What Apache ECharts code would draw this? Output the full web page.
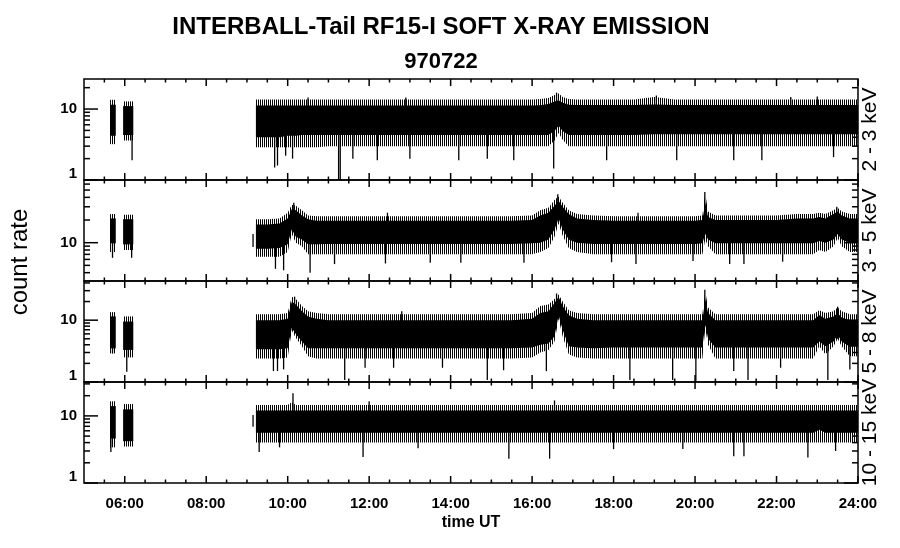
<!DOCTYPE html>
<html><head><meta charset="utf-8">
<script src="https://cdn.jsdelivr.net/npm/echarts@6/dist/echarts.min.js"></script>
<style>html,body{margin:0;padding:0;background:#fff}#c{width:900px;height:548px}</style>
</head><body><div id="c"></div>
<script>
// ---------------- text ----------------
const title1 = 'INTERBALL-Tail RF15-I SOFT X-RAY EMISSION';
const title2 = '970722';
const yTitle = 'count rate';
const xTitle = 'time UT';
const bandLabels = ['2 - 3 keV', '3 - 5 keV', '5 - 8 keV', '10 - 15 keV'];

// ---------------- axes ----------------
const xMin = 5, xMax = 24;
const xLabelHours = [6, 8, 10, 12, 14, 16, 18, 20, 22, 24];
const xMajorTicks = [6, 8, 10, 12, 14, 16, 18, 20, 22, 24];
const xMinorTicks = [5.5, 6.5, 7, 7.5, 8.5, 9, 9.5, 10.5, 11, 11.5, 12.5, 13, 13.5, 14.5, 15, 15.5,
  16.5, 17, 17.5, 18.5, 19, 19.5, 20.5, 21, 21.5, 22.5, 23, 23.5];
const yRanges = [[1, 26.5], [3.1, 68], [1, 43], [1, 32]];
const yMajorTicks = [[1, 10], [10], [1, 10], [1, 10]];
const yMinorTicks = [
  [2, 3, 4, 5, 6, 7, 8, 9, 20],
  [4, 5, 6, 7, 8, 9, 20, 30, 40, 50, 60],
  [2, 3, 4, 5, 6, 7, 8, 9, 20, 30, 40],
  [2, 3, 4, 5, 6, 7, 8, 9, 20, 30]
];

// ---------------- data (hours UT, count rate) ----------------
const times = [5.64, 5.78, 5.96, 6.21,
  9.22, 9.5, 9.8, 10.0, 10.1, 10.2, 10.35, 10.5, 10.7, 11.0, 11.5, 12.0, 12.5, 13.0, 13.5, 14.0, 14.5, 15.0, 15.5,
  16.0, 16.2, 16.4, 16.55, 16.65, 16.75, 16.9, 17.1, 17.5, 18.0, 18.5, 19.0, 19.5, 20.0, 20.18, 20.25, 20.32, 20.5,
  21.0, 21.5, 22.0, 22.5, 22.9, 23.05, 23.2, 23.4, 23.5, 23.6, 23.8, 24.0];
const segments = [[0, 1], [2, 3], [4, 52]];

// panel 1 : 2 - 3 keV
const p1CoreLo = [4.2, 4.2, 4.3, 4.3,
  4.0, 4.0, 4.0, 4.2, 4.2, 4.2, 4.3, 4.3, 4.3, 4.3, 4.3, 4.3, 4.3, 4.3, 4.3, 4.3, 4.3, 4.3, 4.3,
  4.3, 4.3, 4.3, 4.9, 5.8, 4.9, 4.3, 4.3, 4.3, 4.3, 4.3, 4.4, 4.4, 4.4, 4.4, 4.4, 4.4, 4.4,
  4.4, 4.4, 4.4, 4.4, 4.4, 4.4, 4.4, 4.4, 4.4, 4.4, 4.4, 4.4];
const p1CoreHi = [11.5, 11.5, 11, 11,
  11.2, 11.2, 11.2, 11.2, 11.2, 11.2, 11.2, 11.2, 11.2, 11.2, 11.2, 11.2, 11.2, 11.2, 11.2, 11.2, 11.2, 11.2, 11.2,
  11.2, 11.3, 11.8, 12.8, 13.3, 12.3, 11.5, 11.4, 11.4, 11.4, 11.4, 11.6, 11.4, 11.4, 11.4, 11.4, 11.4, 11.4,
  11.4, 11.4, 11.4, 11.4, 11.4, 11.4, 11.4, 11.4, 11.4, 11.4, 11.4, 11.4];
const p1FrLo = [3.2, 3.2, 3.6, 3.6,
  2.9, 2.9, 2.9, 2.9, 2.9, 2.9, 2.9, 2.9, 2.9, 3.0, 3.0, 3.0, 3.0, 3.0, 3.0, 3.0, 3.0, 3.0, 3.0,
  3.0, 3.0, 3.0, 3.6, 4.6, 3.7, 3.0, 3.0, 3.0, 3.0, 3.0, 3.0, 3.0, 3.0, 3.0, 3.0, 3.0, 3.0,
  3.0, 3.0, 3.0, 3.0, 3.0, 3.0, 3.0, 3.0, 3.0, 3.0, 3.0, 3.0];
const p1FrHi = [13.5, 13.5, 12.8, 12.8,
  13.6, 13.6, 13.6, 13.6, 13.6, 13.6, 13.6, 13.6, 13.6, 13.6, 13.6, 13.6, 13.6, 13.6, 13.6, 13.6, 13.6, 13.6, 13.6,
  13.6, 13.8, 14.3, 15.8, 16.5, 14.8, 13.8, 13.6, 13.6, 13.6, 13.6, 14.8, 13.6, 13.6, 13.6, 13.6, 13.6, 13.6,
  13.6, 13.6, 13.6, 13.6, 13.6, 13.6, 13.6, 13.6, 13.6, 13.6, 13.6, 13.6];
const p1SpikeT  = [6.18, 9.68, 9.75, 9.95, 10.12, 11.25, 11.29, 11.6, 12.2, 13.0, 14.2, 14.9, 15.55, 16.53, 17.83, 19.55, 20.95, 21.64, 23.4, 16.6, 19.05, 23.0, 10.5, 12.9, 22.35];
const p1SpikeLo = [1.9, 1.5, 1.6, 2.2, 2.0, 1.0, 1.0, 2.0, 1.9, 2.0, 1.9, 2.0, 1.9, 1.45, 1.9, 1.9, 1.9, 1.9, 2.1, 10, 10, 10, 10, 10, 10];
const p1SpikeHi = [5, 5, 5, 5, 5, 5, 5, 5, 5, 5, 5, 5, 5, 5, 5, 5, 5, 5, 5, 17, 15.5, 15, 14.5, 14.5, 14.8];

// panel 2 : 3 - 5 keV
const p2CoreLo = [9.8, 9.8, 9.5, 9.5,
  8.3, 8.3, 8.5, 9.5, 15, 12, 11, 9.5, 9.5, 9.6, 9.6, 9.6, 9.6, 9.6, 9.6, 9.6, 9.6, 9.6, 9.6,
  9.8, 10, 11, 15, 21, 15, 11, 10, 9.6, 9.6, 9.6, 9.6, 9.6, 9.6, 9.8, 13, 11, 9.8,
  9.8, 9.8, 9.8, 9.8, 9.8, 10.5, 10, 11, 13, 11, 10, 10];
const p2CoreHi = [21, 21, 20.5, 20.5,
  17.5, 17.5, 18, 21, 28, 27, 23, 20.5, 19.5, 19.5, 19.5, 19.5, 19.5, 19.5, 19.5, 19.5, 19.5, 19.5, 19.5,
  20, 23, 25, 31, 36, 30, 24, 21, 20, 19.5, 19.5, 19.5, 19.5, 19.5, 20, 34, 22, 20,
  20, 20, 20, 21, 21, 22, 21, 24, 26, 23, 21, 21];
const p2FrLo = [7.5, 7.5, 8, 8,
  6.5, 6.5, 6.5, 7.5, 13, 10, 9, 7, 7, 7, 7, 7, 7, 7, 7, 7, 7, 7, 7,
  7, 7.5, 8.5, 12, 18, 12.5, 8.5, 7.5, 7, 7, 7, 7, 7, 7, 7, 11, 9, 7,
  7, 7, 7, 7, 7, 8, 7.5, 9, 11.5, 9, 7.5, 7.5];
const p2FrHi = [24, 24, 23.5, 23.5,
  20.5, 20.5, 21, 25, 32, 31, 27, 23, 22.5, 22.5, 22.5, 22.5, 22.5, 22.5, 22.5, 22.5, 22.5, 22.5, 22.5,
  23, 27, 29, 37, 41, 34, 27, 24, 23, 22.5, 22.5, 22.5, 22.5, 22.5, 23, 45, 26, 23,
  23, 23, 23, 24, 24, 25, 24, 27, 29, 26, 24, 24];
const p2SpikeT  = [9.15, 9.7, 9.9, 10.55, 11.15, 12.4, 13.5, 14.25, 15.8, 17.95, 18.55, 19.95, 20.85, 21.2, 22.15, 6.17, 5.7, 10.15, 16.63, 20.24, 23.48, 18.6, 12.45];
const p2SpikeLo = [8.8, 4.5, 4.3, 4.0, 5.2, 5.3, 5.4, 5.4, 5.4, 5.5, 5.2, 5.7, 5.2, 5.2, 5.6, 6.3, 6.3, 20, 25, 20, 15, 15, 15];
const p2SpikeHi = [13, 12, 12, 12, 12, 12, 12, 12, 12, 12, 12, 12, 12, 12, 12, 12, 12, 34, 44, 47, 30, 25, 25];

// panel 3 : 5 - 8 keV
const p3CoreLo = [3.5, 3.5, 3.3, 3.3,
  3.4, 3.4, 3.4, 3.5, 7.5, 6, 4.5, 3.5, 3.5, 3.5, 3.5, 3.5, 3.5, 3.5, 3.5, 3.5, 3.5, 3.5, 3.5,
  3.6, 4, 4.2, 5.5, 12, 7, 3.8, 3.6, 3.5, 3.6, 3.6, 3.6, 3.6, 3.6, 3.6, 8.5, 5, 3.6,
  3.6, 3.6, 3.6, 3.6, 3.6, 4.5, 3.8, 4.5, 5.8, 4.5, 3.7, 3.7];
const p3CoreHi = [11.5, 11.5, 9.5, 9.5,
  10, 10, 10, 10.5, 20, 18, 14, 11.5, 10.5, 10, 10, 10, 10, 10, 10, 10, 10, 10, 10,
  10.5, 13, 14, 19, 24, 17, 12, 10.5, 10, 10, 10, 10, 10, 10, 10, 22, 13, 10,
  10, 10, 10, 10, 10, 12, 10.5, 11.5, 13, 11, 10, 10];
const p3FrLo = [2.9, 2.9, 2.5, 2.5,
  2.4, 2.4, 2.4, 2.5, 6.8, 5.2, 3.8, 2.6, 2.4, 2.4, 2.4, 2.4, 2.4, 2.4, 2.4, 2.4, 2.4, 2.4, 2.4,
  2.5, 3, 3.3, 4.5, 10.5, 5.5, 2.8, 2.5, 2.4, 2.4, 2.4, 2.4, 2.4, 2.4, 2.4, 7.5, 4, 2.4,
  2.4, 2.4, 2.4, 2.4, 2.4, 3.8, 2.8, 3.8, 5, 3.8, 2.6, 2.6];
const p3FrHi = [13.5, 13.5, 11.5, 11.5,
  12.5, 12.5, 12.5, 13, 24, 22, 17, 14, 13, 12.5, 12.5, 12.5, 12.5, 12.5, 12.5, 12.5, 12.5, 12.5, 12.5,
  13, 17, 18, 22, 26, 20, 14.5, 13, 12.5, 12.5, 12.5, 12.5, 12.5, 12.5, 12.5, 29, 16, 12.5,
  12.5, 12.5, 12.5, 12.5, 12.5, 14.5, 13, 14, 16, 14, 12.5, 12.5];
const p3SpikeT  = [6.05, 5.7, 9.65, 9.75, 9.9, 11.4, 11.9, 12.6, 13.8, 14.9, 15.3, 16.35, 18.4, 19.45, 20.02, 20.95, 21.3, 22.1, 23.26, 23.8, 10.17, 16.6, 20.24, 12.8, 23.5];
const p3SpikeLo = [1.47, 2.9, 1.5, 1.5, 1.6, 1.08, 1.7, 1.7, 1.7, 1.08, 1.55, 1.5, 1.08, 1.08, 1.0, 1.5, 1.08, 1.7, 1.08, 1.6, 10, 12, 8, 5, 5];
const p3SpikeHi = [5, 5, 5, 5, 5, 5, 5, 5, 5, 5, 5, 5, 5, 5, 5, 5, 5, 5, 5, 5, 24, 27, 31, 14, 16.5];

// panel 4 : 10 - 15 keV
const p4CoreLo = [4.6, 4.6, 4.2, 4.2,
  5.6, 5.6, 5.6, 5.6, 5.6, 5.6, 5.6, 5.6, 5.6, 5.6, 5.6, 5.6, 5.6, 5.6, 5.6, 5.6, 5.6, 5.6, 5.6,
  5.6, 5.6, 5.6, 5.6, 5.6, 5.6, 5.6, 5.6, 5.6, 5.6, 5.6, 5.6, 5.6, 5.6, 5.6, 5.6, 5.6, 5.6,
  5.6, 5.6, 5.6, 5.6, 5.6, 6.2, 5.6, 5.6, 5.6, 5.6, 5.6, 5.6];
const p4CoreHi = [14, 14, 12.5, 12.5,
  12, 12, 12, 12, 12, 12, 12, 12, 12, 12, 12, 12, 12, 12, 12, 12, 12, 12, 12,
  12, 12, 12, 12, 12, 12, 12, 12, 12, 12, 12, 12, 12, 12, 12, 12, 12, 12,
  12, 12, 12, 12, 12, 12, 12, 12, 12, 12, 12, 12];
const p4FrLo = [3.4, 3.4, 3.5, 3.5,
  4, 4, 4, 4, 4, 4, 4, 4, 4, 4, 4, 4, 4, 4, 4, 4, 4, 4, 4,
  4, 4, 4, 4, 4, 4, 4, 4, 4, 4, 4, 4, 4, 4, 4, 4, 4, 4,
  4, 4, 4, 4, 4, 4, 4, 4, 4, 4, 4, 4];
const p4FrHi = [16.5, 16.5, 15, 15,
  14.5, 14.5, 14.5, 14.5, 16, 14.5, 14.5, 14.5, 14.5, 14.5, 14.5, 14.5, 14.5, 14.5, 14.5, 14.5, 14.5, 14.5, 14.5,
  14.5, 14.5, 14.5, 14.5, 14.5, 14.5, 14.5, 14.5, 14.5, 14.5, 14.5, 14.5, 14.5, 14.5, 14.5, 14.5, 14.5, 14.5,
  14.5, 14.5, 14.5, 14.5, 14.5, 14.5, 14.5, 14.5, 14.5, 14.5, 14.5, 14.5];
const p4SpikeT  = [9.15, 5.66, 9.3, 9.8, 11.85, 13.2, 15.43, 16.43, 18.0, 19.7, 20.95, 21.2, 22.77, 23.45, 10.13, 16.55, 12.0];
const p4SpikeLo = [6.9, 2.9, 2.9, 3.4, 2.45, 3.3, 2.3, 2.3, 3.2, 3.2, 2.5, 2.5, 2.4, 3.0, 8, 8, 8];
const p4SpikeHi = [10.3, 8, 8, 8, 8, 8, 8, 8, 8, 8, 8, 8, 8, 8, 21.8, 17, 16.5];

// ---------------- build ----------------
const panels = [
  {coreLo: p1CoreLo, coreHi: p1CoreHi, frLo: p1FrLo, frHi: p1FrHi, sT: p1SpikeT, sLo: p1SpikeLo, sHi: p1SpikeHi},
  {coreLo: p2CoreLo, coreHi: p2CoreHi, frLo: p2FrLo, frHi: p2FrHi, sT: p2SpikeT, sLo: p2SpikeLo, sHi: p2SpikeHi},
  {coreLo: p3CoreLo, coreHi: p3CoreHi, frLo: p3FrLo, frHi: p3FrHi, sT: p3SpikeT, sLo: p3SpikeLo, sHi: p3SpikeHi},
  {coreLo: p4CoreLo, coreHi: p4CoreHi, frLo: p4FrLo, frHi: p4FrHi, sT: p4SpikeT, sLo: p4SpikeLo, sHi: p4SpikeHi}
];

const FONT = '"Liberation Sans", Arial, Helvetica, sans-serif';
const GL = 84, GR = 42, GT = 79, GH = 101;

const patCanvas = document.createElement('canvas');
patCanvas.width = 2; patCanvas.height = 4;
(function () { const g = patCanvas.getContext('2d'); g.fillStyle = '#000'; g.fillRect(0, 0, 1, 4); })();
const fringeFill = {image: patCanvas, repeat: 'repeat'};

const chart = echarts.init(document.getElementById('c'), null, {renderer: 'canvas', width: 900, height: 548});

const grids = [], xAxes = [], yAxes = [], series = [];
for (let i = 0; i < 4; i++) {
  grids.push({left: GL, right: GR, top: GT + GH * i, height: GH, show: true,
    borderColor: '#000', borderWidth: 1.5, backgroundColor: 'transparent', containLabel: false});
  xAxes.push({gridIndex: i, type: 'value', min: xMin, max: xMax, interval: 1,
    axisLine: {show: false}, axisTick: {show: false}, splitLine: {show: false},
    axisLabel: {show: i === 3, margin: 13, color: '#000', fontFamily: FONT, fontSize: 15, fontWeight: 'bold',
      showMinLabel: true, showMaxLabel: true,
      formatter: function (v) {
        const h = Math.round(v);
        if (Math.abs(v - h) > 1e-6 || xLabelHours.indexOf(h) < 0) return '';
        return (h < 10 ? '0' : '') + h + ':00';
      }}
  });
  const hasOne = yMajorTicks[i].indexOf(1) >= 0;
  yAxes.push({gridIndex: i, type: 'log', logBase: 10, min: yRanges[i][0], max: yRanges[i][1],
    axisLine: {show: false}, axisTick: {show: false}, splitLine: {show: false}, minorTick: {show: false},
    axisLabel: {margin: 7, color: '#000', fontFamily: FONT, fontSize: 15, fontWeight: 'bold',
      showMinLabel: hasOne, showMaxLabel: false,
      formatter: function (v) {
        if (Math.abs(v - 10) < 1e-6) return '10';
        if (Math.abs(v - 1) < 1e-6) return '{lo|1}';
        return '';
      },
      rich: {lo: {fontFamily: FONT, fontSize: 15, fontWeight: 'bold', color: '#000', padding: [0, 0, 12, 0]}}
    }
  });

  const P = panels[i];
  series.push({
    type: 'custom', xAxisIndex: i, yAxisIndex: i, clip: true, z: 2, silent: true,
    data: segments.map(s => [times[s[0]], P.coreLo[s[0]], s[0], s[1]]),
    encode: {x: 0, y: 1},
    renderItem: function (params, api) {
      const s = api.value(2), e = api.value(3);
      const up = [], lo = [], fu = [], fl = [];
      for (let k = s; k <= e; k++) {
        up.push(api.coord([times[k], P.coreHi[k]]));
        lo.push(api.coord([times[k], P.coreLo[k]]));
        fu.push(api.coord([times[k], P.frHi[k]]));
        fl.push(api.coord([times[k], P.frLo[k]]));
      }
      return {type: 'group', children: [
        {type: 'polygon', shape: {points: fu.concat(fl.reverse())}, style: {fill: fringeFill}},
        {type: 'polygon', shape: {points: up.concat(lo.reverse())}, style: {fill: '#000'}}
      ]};
    }
  });
  series.push({
    type: 'custom', xAxisIndex: i, yAxisIndex: i, clip: true, z: 3, silent: true,
    data: P.sT.map((t, k) => [t, P.sLo[k], P.sHi[k]]),
    encode: {x: 0, y: 1},
    renderItem: function (params, api) {
      const a = api.coord([api.value(0), api.value(1)]);
      const b = api.coord([api.value(0), api.value(2)]);
      return {type: 'line', shape: {x1: a[0], y1: a[1], x2: b[0], y2: b[1]},
        style: {stroke: '#000', lineWidth: 1.3}};
    }
  });
  const yMin = yRanges[i][0], yMax = yRanges[i][1];
  const tickData = [];
  xMajorTicks.forEach(t => tickData.push([t, yMin, 0]));
  xMinorTicks.forEach(t => tickData.push([t, yMin, 1]));
  yMajorTicks[i].forEach(v => tickData.push([xMin, v, 2]));
  yMinorTicks[i].forEach(v => tickData.push([xMin, v, 3]));
  series.push({
    type: 'custom', xAxisIndex: i, yAxisIndex: i, clip: false, z: 5, silent: true,
    data: tickData, encode: {x: 0, y: 1},
    renderItem: function (params, api) {
      const kind = api.value(2);
      const st = {stroke: '#000', lineWidth: 1.5};
      if (kind <= 1) {
        const t = api.value(0), len = kind === 0 ? 7 : 3.5;
        const b = api.coord([t, yMin]), tp = api.coord([t, yMax]);
        return {type: 'group', children: [
          {type: 'line', shape: {x1: b[0], y1: b[1], x2: b[0], y2: b[1] - len}, style: st},
          {type: 'line', shape: {x1: tp[0], y1: tp[1], x2: tp[0], y2: tp[1] + len}, style: st}
        ]};
      }
      const v = api.value(1), len = kind === 2 ? 14 : 6;
      const l = api.coord([xMin, v]), r = api.coord([xMax, v]);
      return {type: 'group', children: [
        {type: 'line', shape: {x1: l[0], y1: l[1], x2: l[0] + len, y2: l[1]}, style: st},
        {type: 'line', shape: {x1: r[0], y1: r[1], x2: r[0] - len, y2: r[1]}, style: st}
      ]};
    }
  });
}

const graphics = [
  {type: 'text', x: 441, y: 27, style: {text: title1, font: 'bold 24px ' + FONT, fill: '#000', align: 'center', verticalAlign: 'middle', textAlign: 'center', textVerticalAlign: 'middle'}},
  {type: 'text', x: 441, y: 62, style: {text: title2, font: 'bold 22px ' + FONT, fill: '#000', align: 'center', verticalAlign: 'middle', textAlign: 'center', textVerticalAlign: 'middle'}},
  {type: 'text', x: 20, y: 262, rotation: Math.PI / 2, style: {text: yTitle, font: '24px ' + FONT, fill: '#000', align: 'center', verticalAlign: 'middle', textAlign: 'center', textVerticalAlign: 'middle'}},
  {type: 'text', x: 471, y: 523, style: {text: xTitle, font: 'bold 16px ' + FONT, fill: '#000', align: 'center', verticalAlign: 'middle', textAlign: 'center', textVerticalAlign: 'middle'}}
];
bandLabels.forEach((s, i) => {
  graphics.push({type: 'text', x: 870, y: GT + GH * i + GH / 2, rotation: Math.PI / 2,
    style: {text: s, font: '21px ' + FONT, fill: '#000', align: 'center', verticalAlign: 'middle', textAlign: 'center', textVerticalAlign: 'middle'}});
});

chart.setOption({
  animation: false,
  backgroundColor: '#fff',
  grid: grids, xAxis: xAxes, yAxis: yAxes, series: series,
  graphic: {elements: graphics}
});
</script>
</body></html>
